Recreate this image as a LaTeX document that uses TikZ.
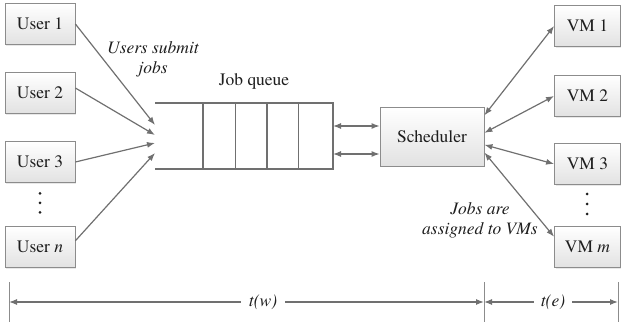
\documentclass[tikz,border=0pt]{standalone}
\usepackage{fontspec}
\IfFontExistsTF{texgyretermes-regular.otf}{%
  \setmainfont{texgyretermes}[Extension=.otf, UprightFont=*-regular, ItalicFont=*-italic,
    BoldFont=*-bold, BoldItalicFont=*-bolditalic]}{}
\usetikzlibrary{calc,arrows.meta,shadows}
\definecolor{boxline}{HTML}{8C8C8C}
\definecolor{boxfill}{HTML}{E2E2E2}
\definecolor{wire}{HTML}{707070}
\definecolor{ink}{HTML}{1E1E1E}
\newcommand{\Lbl}{\rmfamily\fontsize{17.5}{20}\selectfont}

\tikzset{
  unit/.style={draw=boxline, line width=0.8pt, top color=white, bottom color=boxfill,
    minimum width=70pt, minimum height=41pt, font=\Lbl, text=ink,
    drop shadow={shadow xshift=1.2pt, shadow yshift=-1.2pt, opacity=0.18}},
  link/.style={draw=wire, line width=1.2pt, -{Latex[length=8pt,width=6pt]}},
  duplex/.style={link, {Latex[length=8pt,width=6pt]}-{Latex[length=8pt,width=6pt]}},
  qwall/.style={draw=wire, line width=1.2pt},
}

\begin{document}
\begin{tikzpicture}[x=1pt,y=1pt]
  \useasboundingbox (0,0) rectangle (621,328);

  % users
  \foreach \i/\nm/\y in {1/User 1/304, 2/User 2/235, 3/User 3/166, 4/User \textit{n}/81}{
    \node[unit] (u\i) at (40,\y) {\nm};
  }
  \foreach \k in {-1,0,1} \fill[ink] (40,125+9.5*\k) circle (1.5pt);

  % vms
  \foreach \i/\nm/\y in {1/VM 1/302, 2/VM 2/232, 3/VM 3/164, 4/VM \textit{m}/81}{
    \node[unit, minimum width=66pt] (vm\i) at (587.5,\y) {\nm};
  }
  \foreach \k in {-1,0,1} \fill[ink] (587,124+10*\k) circle (1.5pt);

  % job queue, open on the left
  \draw[qwall] (155,225) -- (333,225) -- (333,159) -- (155,159);
  \foreach \x in {203,235.5,267,298.5} \draw[qwall] (\x,225) -- (\x,159);
  \node[font=\Lbl, text=ink] (jq) at (254,247) {Job queue};
  \coordinate (qhi) at (333,202);
  \coordinate (qlo) at (333,174);
  \foreach \i/\y in {1/203, 2/193, 3/185, 4/175} \coordinate (in\i) at (155,\y);

  \node[unit, minimum width=104pt, minimum height=59pt] (sched) at (432,191.5) {Scheduler};

  % users -> queue
  \draw[link] (u1.east) -- (in1);
  \draw[link] (u2.8) -- (in2);
  \draw[link] (u3.east) -- (in3);
  \draw[link] (u4.10) -- (in4);
  \node[font=\Lbl\itshape, text=ink, align=center] (submit) at (153,269) {Users submit\\jobs};

  % queue <-> scheduler
  \draw[duplex] (qhi) -- (sched.west |- qhi);
  \draw[duplex] (qlo) -- (sched.west |- qlo);

  % scheduler <-> vms
  \draw[duplex] (sched.22) -- (vm1.west);
  \draw[duplex] (sched.4) -- (vm2.west);
  \draw[duplex] (sched.-9) -- (vm3.west);
  \draw[duplex] (sched.-17) -- (vm4.163);
  \node[font=\Lbl\itshape, text=ink, align=center] (assign) at (480,108) {Jobs are\\assigned to VMs};

  % time spans
  \foreach \x/\n in {9/0, 484/1, 618/2}{
    \draw[draw=boxline, line width=1pt] (\x,6) -- (\x,46);
    \coordinate (t\n) at (\x,26);
  }
  \node[font=\Lbl\itshape, text=ink, inner xsep=8pt] (tw) at (263,26) {t(w)};
  \node[font=\Lbl\itshape, text=ink, inner xsep=7pt] (te) at (553,26) {t(e)};
  \draw[link] (tw) -- (t0);
  \draw[link] (tw) -- (t1);
  \draw[link] (te) -- (t1);
  \draw[link] (te) -- (t2);
\end{tikzpicture}
\end{document}
